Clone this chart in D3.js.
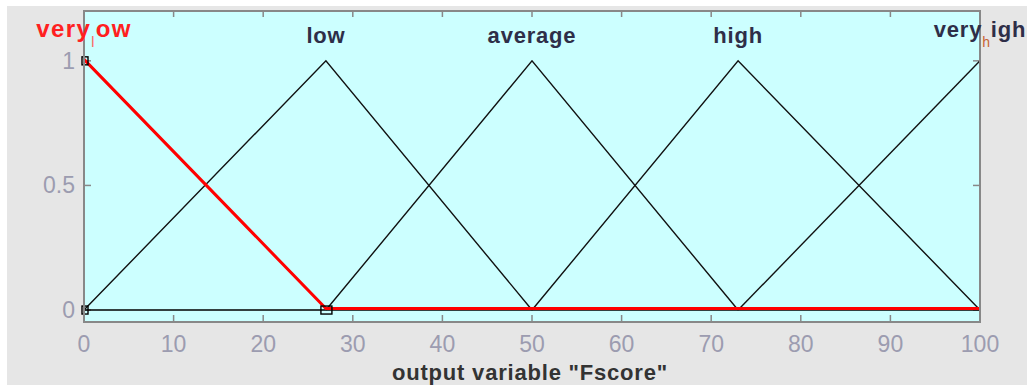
<!DOCTYPE html>
<html>
<head>
<meta charset="utf-8">
<script src="https://cdnjs.cloudflare.com/ajax/libs/d3/7.8.5/d3.min.js"></script>
<style>
  body { margin: 0; background: #fff; }
  svg { display: block; }
</style>
</head>
<body>
<script>
var W = 1027, H = 385;

// membership functions of output variable "Fscore"
var mfNames = ["very", "low", "average", "high", "very"];
var mfSubs = ["l", "", "", "", "h"];
var mfRest = ["ow", "", "", "", "igh"];
var mfPeaks = [0, 27, 50, 73, 100];
var mfPoints = [
  [[0, 1], [27, 0], [100, 0]],
  [[0, 0], [27, 1], [50, 0]],
  [[27, 0], [50, 1], [73, 0]],
  [[50, 0], [73, 1], [100, 0]],
  [[73, 0], [100, 1]]
];
var selected = 0;
var handles = [[0, 1], [0, 0], [27, 0]];
var xTicks = [0, 10, 20, 30, 40, 50, 60, 70, 80, 90, 100];
var yTicks = [0, 0.5, 1];

var svg = d3.select("body").append("svg")
  .attr("width", W)
  .attr("height", H);

svg.append("rect")
  .attr("x", 7).attr("y", 6)
  .attr("width", W - 7).attr("height", H - 6)
  .attr("fill", "#e6e6e6");

var pLeft = 84, pRight = 980, pTop = 11, pBottom = 322;
var font = "Liberation Sans, Arial, sans-serif";

var x = d3.scaleLinear().domain([0, 100]).range([pLeft, pRight]);
var y = d3.scaleLinear().domain([-0.048, 1.2]).range([pBottom, pTop]);

svg.append("rect")
  .attr("x", pLeft).attr("y", pTop)
  .attr("width", pRight - pLeft).attr("height", pBottom - pTop)
  .attr("fill", "#ccffff");

// ticks inside on all four sides
var g = svg.append("g");
xTicks.forEach(function (t) {
  g.append("line").attr("x1", x(t)).attr("x2", x(t)).attr("y1", pBottom).attr("y2", pBottom - 7)
    .attr("stroke", "#888").attr("stroke-width", 1.5);
  g.append("line").attr("x1", x(t)).attr("x2", x(t)).attr("y1", pTop).attr("y2", pTop + 6)
    .attr("stroke", "#888").attr("stroke-width", 1.5);
  g.append("text").attr("x", x(t)).attr("y", 352)
    .attr("text-anchor", "middle")
    .attr("font-family", font)
    .attr("font-size", 23).attr("fill", "#9c9cb0")
    .text(t);
});
yTicks.forEach(function (t) {
  g.append("line").attr("x1", pLeft).attr("x2", pLeft + 7).attr("y1", y(t)).attr("y2", y(t))
    .attr("stroke", "#888").attr("stroke-width", 1.5);
  g.append("line").attr("x1", pRight).attr("x2", pRight - 7).attr("y1", y(t)).attr("y2", y(t))
    .attr("stroke", "#888").attr("stroke-width", 1.5);
  g.append("text").attr("x", pLeft - 9).attr("y", y(t) + 8)
    .attr("text-anchor", "end")
    .attr("font-family", font)
    .attr("font-size", 23).attr("fill", "#9c9cb0")
    .text(t);
});

// baseline at zero
svg.append("line")
  .attr("x1", x(0)).attr("x2", x(100)).attr("y1", y(0)).attr("y2", y(0))
  .attr("stroke", "#000").attr("stroke-width", 1.5);

var line = d3.line().x(function (d) { return x(d[0]); }).y(function (d) { return y(d[1]); });

mfPoints.forEach(function (pts, i) {
  if (i === selected) return;
  svg.append("path").attr("d", line(pts))
    .attr("fill", "none").attr("stroke", "#111").attr("stroke-width", 1.4);
});

// selected MF in red, drawn on top
svg.append("path").attr("d", line(mfPoints[selected]))
  .attr("fill", "none").attr("stroke", "#ff0000").attr("stroke-width", 3)
  .attr("transform", "translate(0,-1.5)");

// vertex handles of the selected MF
svg.selectAll(".h").data(handles).enter().append("rect")
  .attr("x", function (d) { return x(d[0]) - (d[0] === 27 ? 5 : 2); })
  .attr("y", function (d) { return y(d[1]) - 4; })
  .attr("width", function (d) { return d[0] === 27 ? 11 : 6; })
  .attr("height", 8)
  .attr("fill", "none").attr("stroke", "#000").attr("stroke-width", 1.4);

// plot frame
svg.append("rect")
  .attr("x", pLeft).attr("y", pTop)
  .attr("width", pRight - pLeft).attr("height", pBottom - pTop)
  .attr("fill", "none").attr("stroke", "#888").attr("stroke-width", 2);

// MF labels, tex-style subscripts
mfNames.forEach(function (n, i) {
  var col = i === selected ? "#ff2020" : "#2e2e48";
  var t = svg.append("text")
    .attr("x", x(mfPeaks[i])).attr("y", mfSubs[i] ? 37 : 43)
    .attr("text-anchor", "middle")
    .attr("font-family", font)
    .attr("font-size", i === selected ? 24 : 22).attr("font-weight", "bold")
    .attr("letter-spacing", i === selected ? 1.4 : 0.8)
    .attr("fill", col);
  t.append("tspan").text(n);
  if (mfSubs[i]) {
    t.append("tspan").attr("font-size", 14).attr("font-weight", "normal").attr("dy", 10)
      .attr("fill", i === selected ? "#ff6060" : "#c86432").text(mfSubs[i]);
    t.append("tspan").attr("dy", -10).text(mfRest[i]);
  }
});

// axis title
svg.append("text")
  .attr("x", 530).attr("y", 380)
  .attr("text-anchor", "middle")
  .attr("font-family", font)
  .attr("font-size", 22).attr("font-weight", "bold")
  .attr("letter-spacing", 0.8)
  .attr("fill", "#333")
  .text('output variable "Fscore"');
</script>
</body>
</html>
